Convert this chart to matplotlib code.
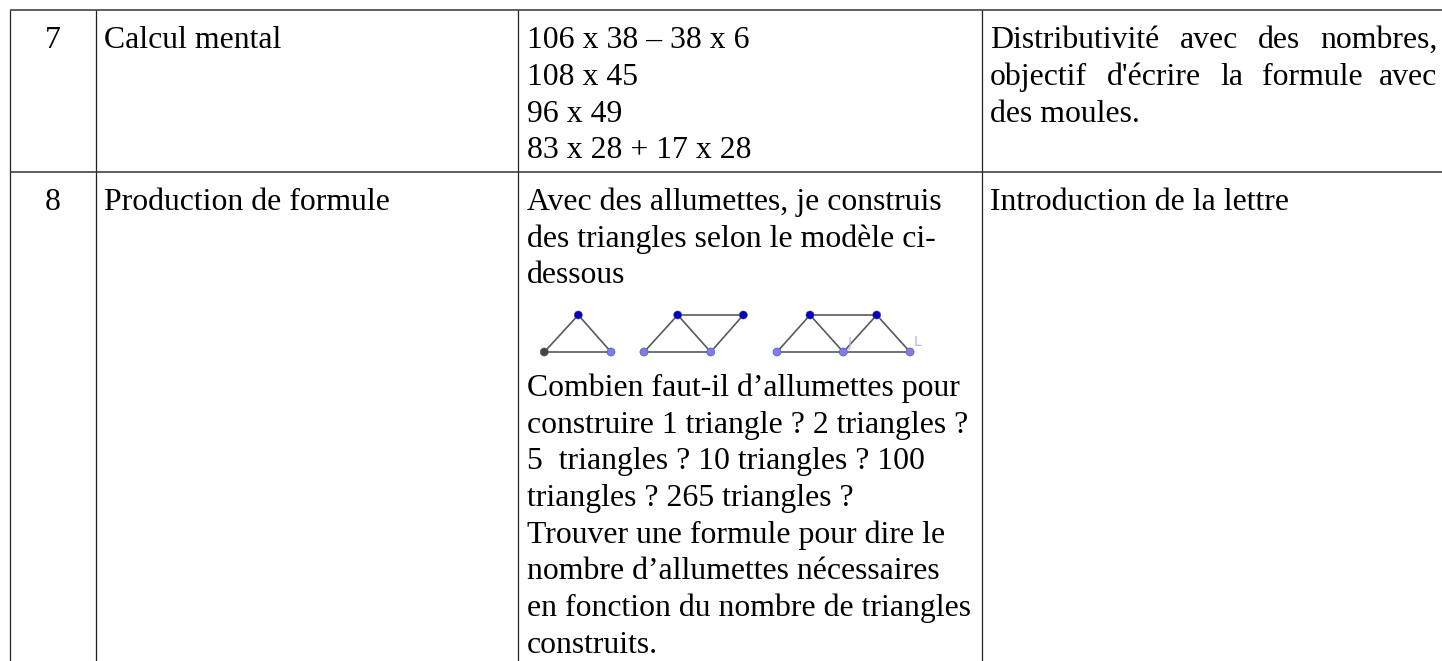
from matplotlib import pyplot as plt

plt.rcParams['font.family'] = ['Liberation Serif', 'DejaVu Serif']

W, H = 1442, 661
FS = 22.9

# grille du tableau (pixels)
col_x = [9.5, 96, 517.5, 982.3]
row_y = [9.5, 171.5]

# numeros
numeros = ["7", "8"]
numeros_y = [48, 210]

# colonne titre
titres = ["Calcul mental", "Production de formule"]
titres_y = [48, 210]

# colonne enonce
enonce = ["106 x 38 – 38 x 6", "108 x 45", "96 x 49", "83 x 28 + 17 x 28",
          "Avec des allumettes, je construis", "des triangles selon le modèle ci-", "dessous",
          "Combien faut-il d’allumettes pour", "construire 1 triangle ? 2 triangles ?",
          "5  triangles ? 10 triangles ? 100", "triangles ? 265 triangles ?",
          "Trouver une formule pour dire le", "nombre d’allumettes nécessaires",
          "en fonction du nombre de triangles", "construits."]
enonce_y = [48, 85, 122, 158, 210, 247, 283, 396, 433, 469, 506, 543, 579, 616, 653]

# derniere colonne, justifiee mot par mot
mots = ["Distributivité", "avec", "des", "nombres,", "objectif", "d'écrire", "la", "formule", "avec", "des moules.", "Introduction de la lettre"]
mots_x = [990, 1180, 1258, 1320.5, 990, 1107, 1220, 1262, 1379, 990, 990]
mots_y = [48, 48, 48, 48, 85, 85, 85, 85, 85, 122, 210]

# petits triangles
points_x = [544.3, 611, 578.3, 644, 710.7, 677.7, 743.3, 777, 843.3, 910, 810, 876.7]
points_y = [352, 352, 315, 352, 352, 315, 315, 352, 352, 352, 315, 315]
points_c = ['#444444', '#7c7cf0', '#0000c8', '#7c7cf0', '#7c7cf0', '#0000c8', '#0000c8',
            '#7c7cf0', '#7c7cf0', '#7c7cf0', '#0000c8', '#0000c8']
segments = [(0, 1), (1, 2), (2, 0), (3, 4), (4, 5), (5, 3), (5, 6), (6, 4),
            (7, 8), (8, 9), (7, 10), (10, 8), (10, 11), (11, 8), (11, 9)]
lettres = ["J", "L"]
lettres_x = [850, 917.7]
lettres_y = [346.5, 346]

fig = plt.figure(figsize=(W/100, H/100), dpi=100)
ax = fig.add_axes([0, 0, 1, 1])
ax.set_xlim(0, W)
ax.set_ylim(H, 0)
ax.axis('off')

for x in col_x:
    ax.plot([x, x], [row_y[0], H], color='#222222', lw=0.9, solid_capstyle='butt')
for y in row_y:
    ax.plot([col_x[0], W], [y, y], color='#333333', lw=1.1, solid_capstyle='butt')

for t, y in zip(numeros, numeros_y):
    ax.text(52.5, y, t, fontsize=FS, ha='center', va='baseline')
for t, y in zip(titres, titres_y):
    ax.text(104, y, t, fontsize=FS, va='baseline')
for t, y in zip(enonce, enonce_y):
    ax.text(527, y, t, fontsize=FS, va='baseline')
for t, x, y in zip(mots, mots_x, mots_y):
    ax.text(x, y, t, fontsize=FS, va='baseline')

for a, b in segments:
    ax.plot([points_x[a], points_x[b]], [points_y[a], points_y[b]], color='#5a5a5a', lw=1.2, zorder=2)
ax.scatter(points_x, points_y, s=34, c=points_c, edgecolors='#555577', linewidths=0.4, zorder=3)
for t, x, y in zip(lettres, lettres_x, lettres_y):
    ax.text(x, y, t, fontsize=10, color='#b4b4f0', family='DejaVu Sans', ha='center', va='baseline')

fig.savefig('out.png', dpi=100)
